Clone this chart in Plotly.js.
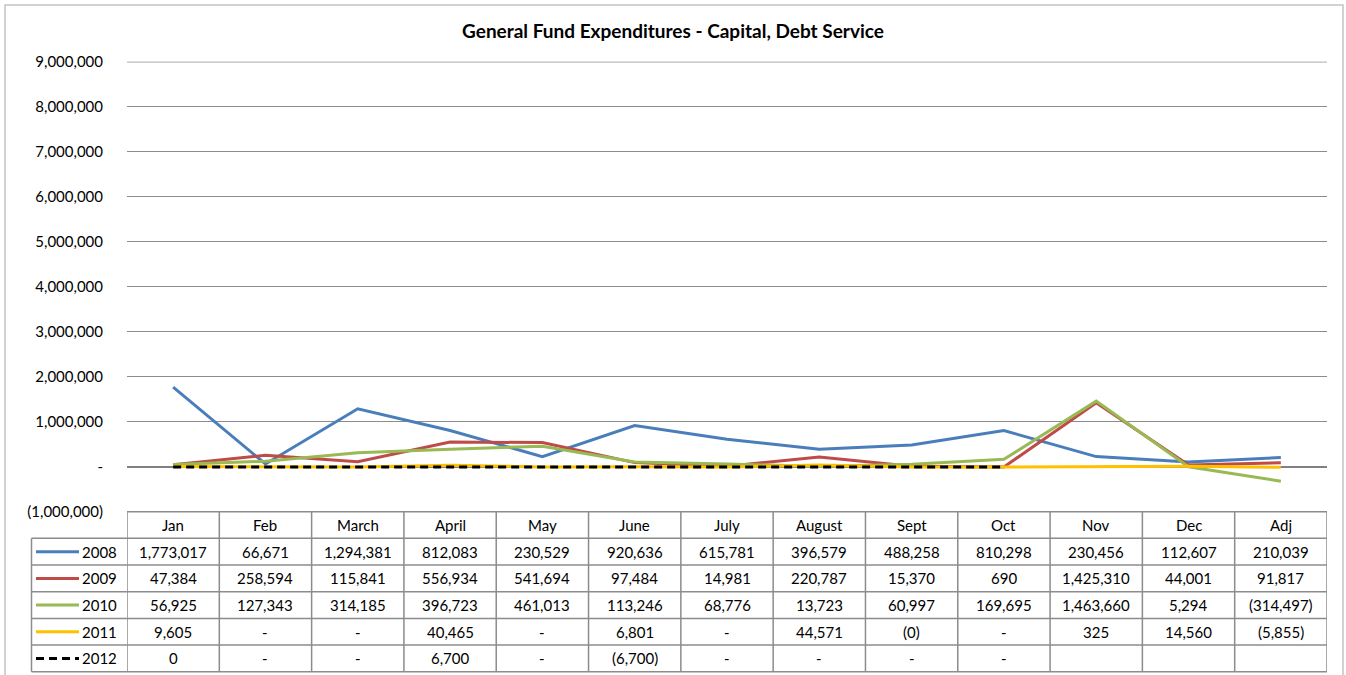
<!DOCTYPE html>
<html>
<head>
<meta charset="utf-8">
<script src="https://cdn.plot.ly/plotly-3.0.1.min.js"></script>
<style>
  html, body { margin: 0; padding: 0; background: #ffffff; }
  #chart { width: 1346px; height: 675px; }
</style>
</head>
<body>
<div id="chart"></div>
<script>
// ---------------- DATA ----------------
const months = ['Jan', 'Feb', 'March', 'April', 'May', 'June', 'July', 'August', 'Sept', 'Oct', 'Nov', 'Dec', 'Adj'];
const seriesNames = ['2008', '2009', '2010', '2011', '2012'];
const v2008 = [1773017, 66671, 1294381, 812083, 230529, 920636, 615781, 396579, 488258, 810298, 230456, 112607, 210039];
const v2009 = [47384, 258594, 115841, 556934, 541694, 97484, 14981, 220787, 15370, 690, 1425310, 44001, 91817];
const v2010 = [56925, 127343, 314185, 396723, 461013, 113246, 68776, 13723, 60997, 169695, 1463660, 5294, -314497];
const v2011 = [9605, 0, 0, 40465, 0, 6801, 0, 44571, -0.3, 0, 325, 14560, -5855];
const v2012 = [0.3, 0, 0, 6700, 0, -6700, 0, 0, 0, 0, null, null, null];
const yTickVals = [-1000000, 0, 1000000, 2000000, 3000000, 4000000, 5000000, 6000000, 7000000, 8000000, 9000000];
const chartTitle = 'General Fund Expenditures - Capital, Debt Service';

// ---------------- STYLE ----------------
const W = 1346, H = 675;
const FONT = 'Lato, "Open Sans", "DejaVu Sans", sans-serif';
const colors = ['#4A7EBB', '#BE4B48', '#98B954', '#FFC000', '#000000'];
const dashes = ['solid', 'solid', 'solid', 'solid', '8px,5px'];
const allSeries = [v2008, v2009, v2010, v2011, v2012];

// pixel geometry helpers (paper coords = pixels because margins are 0)
const px = x => x / W;
const py = y => 1 - y / H;
const plotLeft = 127, plotRight = 1327, plotTop = 61.5, plotBottom = 512;
const tableTop = 511.7, rowH = 26.67, nRows = 6;
const legendLeft = 31.5;

function fmt(v) {
  if (v === null || v === undefined) return '';
  if (v === 0) return '-';
  const s = Math.round(Math.abs(v)).toLocaleString('en-US');
  return v < 0 ? '(' + s + ')' : s;
}

const traces = allSeries.map((vals, i) => ({
  type: 'scatter',
  mode: 'lines',
  name: seriesNames[i],
  x: months,
  y: vals,
  line: { color: colors[i], width: 3, dash: dashes[i] },
  connectgaps: false,
  hoverinfo: 'skip'
}));

const shapes = [];
const annotations = [];
const gridC = '#8c8c8c';

// outer chart border
shapes.push({ type: 'rect', xref: 'paper', yref: 'paper', x0: px(5), x1: px(1343), y0: py(700), y1: py(5),
  line: { color: '#c4c4c4', width: 1.5 } });

// top gridline (at the edge of the range, which Plotly does not draw itself)
const topTick = yTickVals[yTickVals.length - 1];
shapes.push({ type: 'line', xref: 'paper', yref: 'y', x0: px(plotLeft), x1: px(plotRight), y0: topTick, y1: topTick,
  line: { color: gridC, width: 1 }, layer: 'below' });

// table horizontal lines
for (let r = 0; r <= nRows; r++) {
  const y = tableTop + r * rowH;
  shapes.push({ type: 'line', xref: 'paper', yref: 'paper',
    x0: r === 0 ? px(plotLeft) : px(legendLeft), x1: px(plotRight), y0: py(y), y1: py(y),
    line: { color: gridC, width: 1.5 } });
}
// table vertical lines (category boundaries)
for (let c = 0; c <= months.length; c++) {
  shapes.push({ type: 'line', xref: 'x', yref: 'paper',
    x0: c - 0.5, x1: c - 0.5, y0: py(tableTop), y1: py(tableTop + nRows * rowH),
    line: { color: gridC, width: 1.5 } });
}
// legend column left line
shapes.push({ type: 'line', xref: 'paper', yref: 'paper',
  x0: px(legendLeft), x1: px(legendLeft), y0: py(tableTop + rowH), y1: py(tableTop + nRows * rowH),
  line: { color: gridC, width: 1.5 } });

// header
months.forEach((m, c) => {
  annotations.push({ xref: 'x', yref: 'paper', x: c, y: py(tableTop + rowH * 0.5), text: m,
    showarrow: false, xanchor: 'center', yanchor: 'middle', font: { family: FONT, size: 15, color: '#000' } });
});
// body rows
allSeries.forEach((vals, i) => {
  const yc = py(tableTop + rowH * (i + 1.5));
  vals.forEach((v, c) => {
    const t = fmt(v);
    if (t === '') return;
    annotations.push({ xref: 'x', yref: 'paper', x: c, y: yc, text: t,
      showarrow: false, xanchor: 'center', yanchor: 'middle', font: { family: FONT, size: 15, color: '#000' } });
  });
  // legend key
  shapes.push({ type: 'line', xref: 'paper', yref: 'paper', x0: px(36), x1: px(79), y0: yc, y1: yc,
    line: { color: colors[i], width: 3, dash: dashes[i] } });
  annotations.push({ xref: 'paper', yref: 'paper', x: px(119), y: yc, text: seriesNames[i],
    showarrow: false, xanchor: 'right', yanchor: 'middle', font: { family: FONT, size: 15, color: '#000' } });
});

const layout = {
  width: W, height: H,
  margin: { l: 0, r: 0, t: 0, b: 0, pad: 0 },
  paper_bgcolor: '#ffffff', plot_bgcolor: '#ffffff',
  showlegend: false,
  title: { text: '<b>' + chartTitle + '</b>', xref: 'paper', x: 0.5, xanchor: 'center',
    yref: 'container', y: py(31), yanchor: 'middle', font: { family: FONT, size: 19, color: '#000' } },
  xaxis: {
    type: 'category', categoryorder: 'array', categoryarray: months,
    domain: [px(plotLeft), px(plotRight)], range: [-0.5, months.length - 0.5],
    showticklabels: false, showgrid: false, zeroline: false, showline: false, ticks: '', fixedrange: true
  },
  yaxis: {
    domain: [py(plotBottom), py(plotTop)], range: [-1000000, 9010000],
    tickvals: yTickVals, ticktext: yTickVals.map(fmt),
    showgrid: true, gridcolor: gridC, gridwidth: 1,
    zeroline: true, zerolinecolor: '#808080', zerolinewidth: 2,
    showline: false, ticks: 'outside', ticklen: 20, tickcolor: 'rgba(0,0,0,0)',
    tickfont: { family: FONT, size: 15, color: '#000' }, fixedrange: true
  },
  shapes: shapes,
  annotations: annotations
};

Plotly.newPlot('chart', traces, layout, { displayModeBar: false, staticPlot: true });
</script>
</body>
</html>
